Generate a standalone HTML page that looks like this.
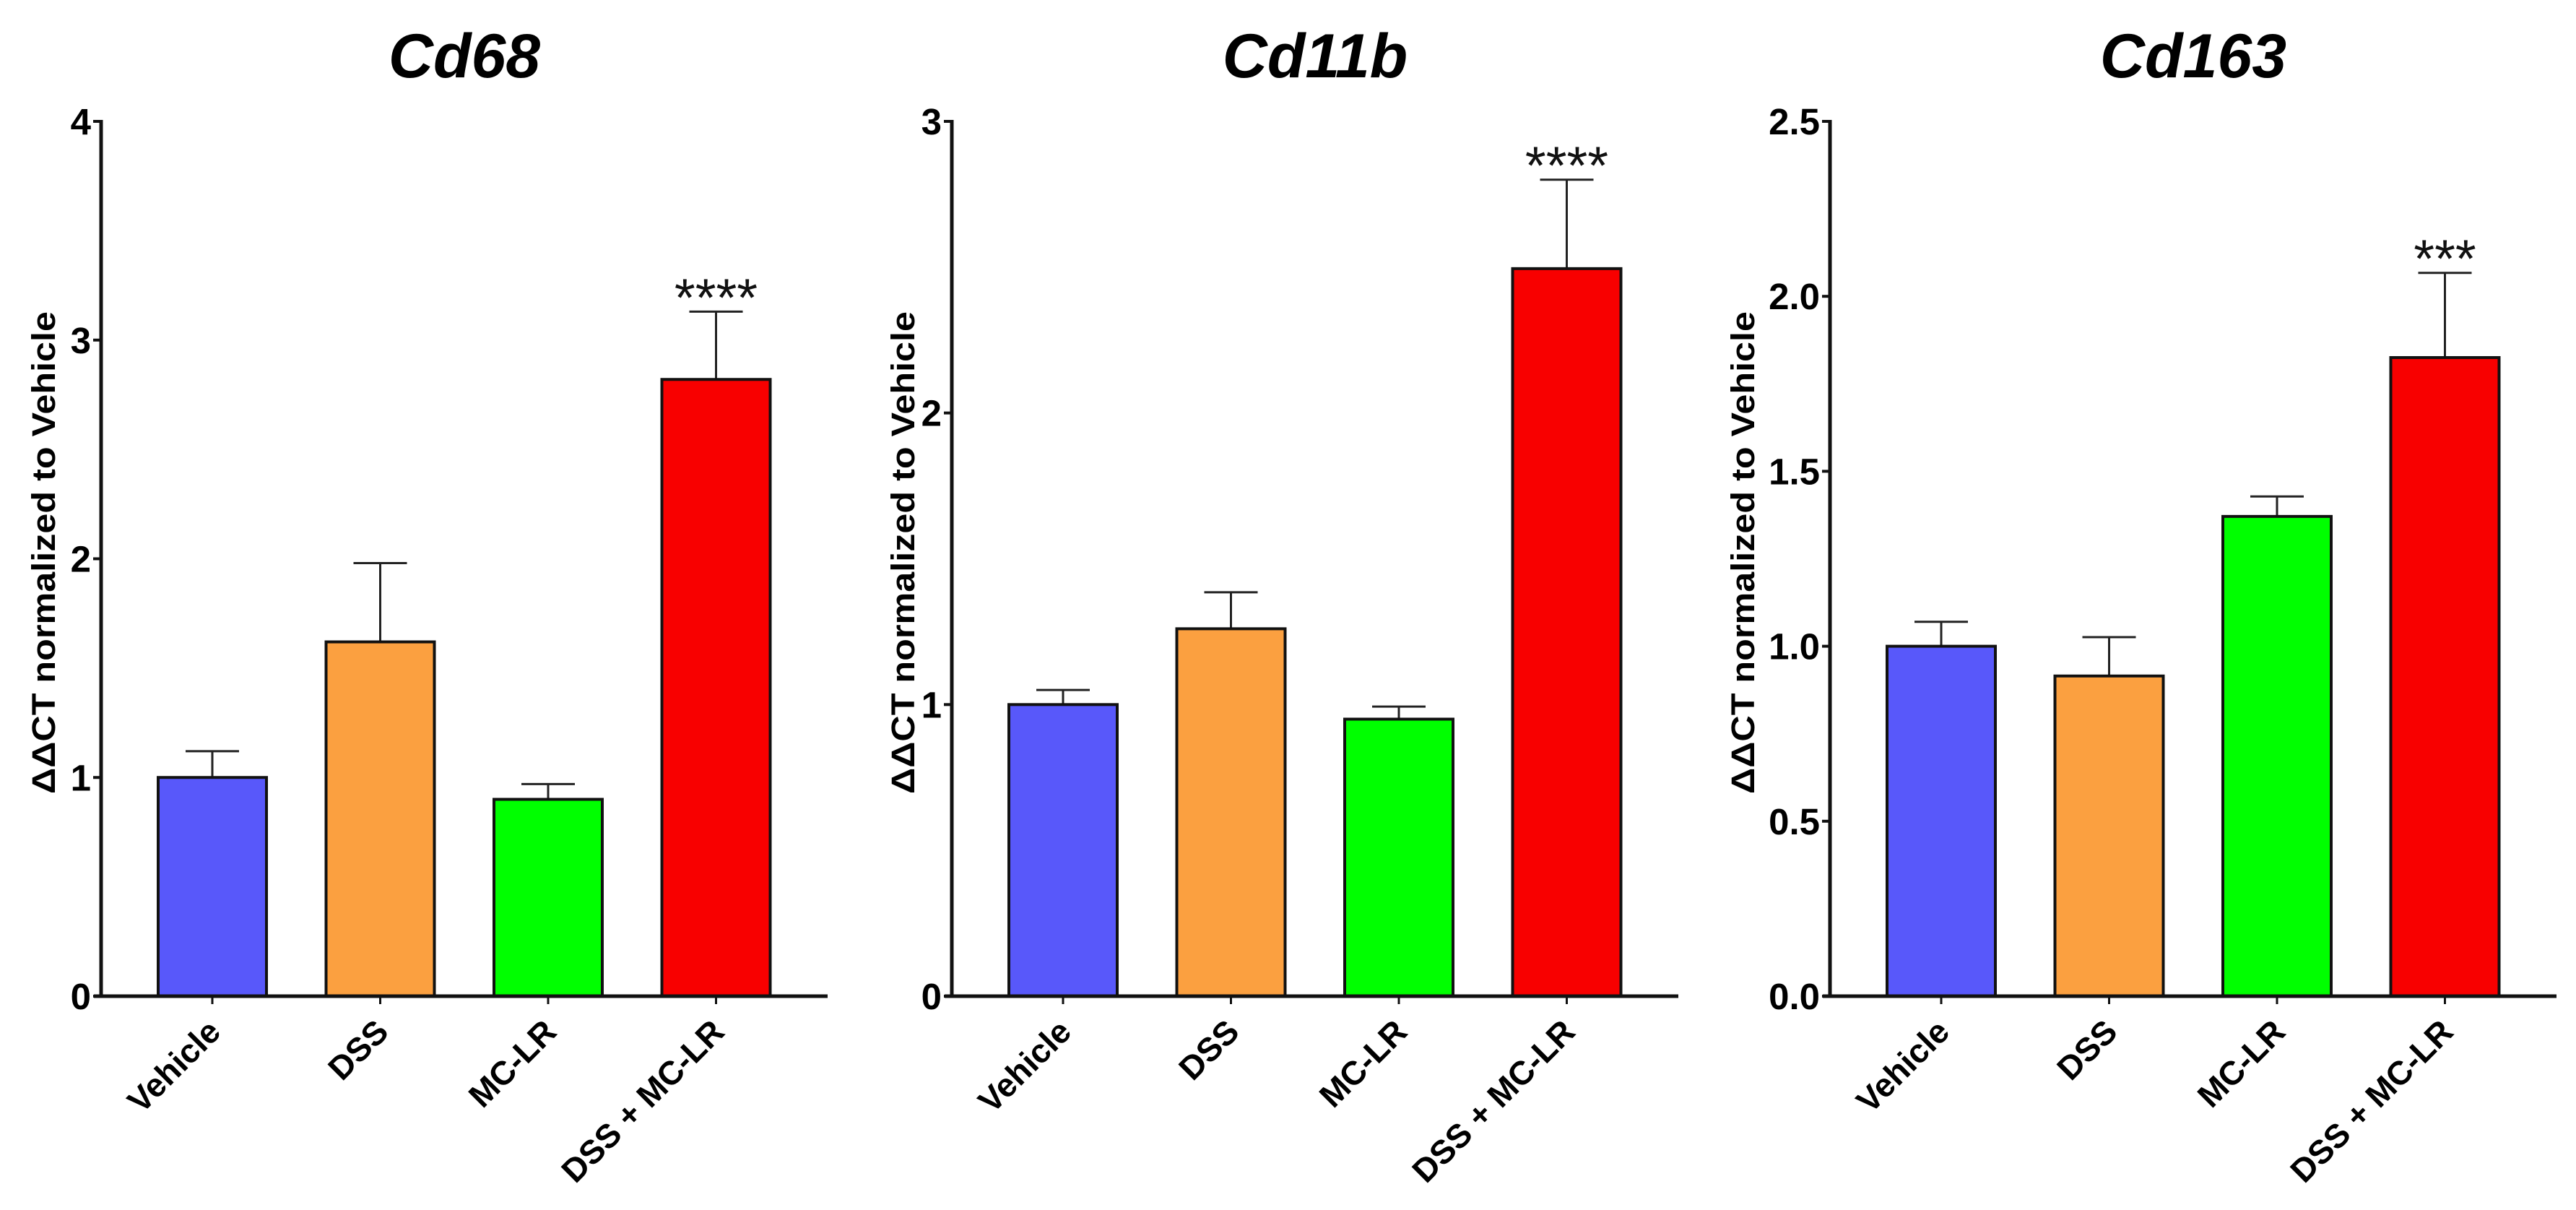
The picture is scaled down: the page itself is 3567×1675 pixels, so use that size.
<!DOCTYPE html>
<html><head><meta charset="utf-8"><style>
html,body{margin:0;padding:0;background:#fff;}
svg{display:block;font-family:"Liberation Sans",Arial,sans-serif;}
</style></head><body>
<svg id="fig" width="3567" height="1675" viewBox="0 0 3567 1675" xmlns="http://www.w3.org/2000/svg"></svg>
<script>
const categories = ["Vehicle","DSS","MC-LR","DSS + MC-LR"];
const colors = ["#5858FA","#FBA040","#00FF00","#F80000"];
const titles = ["Cd68","Cd11b","Cd163"];
const cd68Values = [1.0, 1.62, 0.90, 2.82];
const cd68Errors = [0.12, 0.36, 0.07, 0.31];
const cd11bValues = [1.0, 1.26, 0.95, 2.495];
const cd11bErrors = [0.05, 0.125, 0.043, 0.305];
const cd163Values = [1.0, 0.915, 1.371, 1.825];
const cd163Errors = [0.07, 0.111, 0.057, 0.242];
const cd68Ticks = [0,1,2,3,4];
const cd11bTicks = [0,1,2,3];
const cd163Ticks = [0,0.5,1.0,1.5,2.0,2.5];
const cd68TickLabels = ["0","1","2","3","4"];
const cd11bTickLabels = ["0","1","2","3"];
const cd163TickLabels = ["0.0","0.5","1.0","1.5","2.0","2.5"];
const stars = ["****","****","***"];

const panels = [
 {ax:140, labX:60, vals:cd68Values, errs:cd68Errors, ticks:cd68Ticks, tl:cd68TickLabels, ymax:4},
 {ax:1318, labX:1250, vals:cd11bValues, errs:cd11bErrors, ticks:cd11bTicks, tl:cd11bTickLabels, ymax:3},
 {ax:2534, labX:2413, vals:cd163Values, errs:cd163Errors, ticks:cd163Ticks, tl:cd163TickLabels, ymax:2.5}
];
const NS="http://www.w3.org/2000/svg";
const svg=document.getElementById('fig');
const Y0=1379, YT=168;
function mk(tag, attrs, parent){const e=document.createElementNS(NS,tag);for(const k in attrs)e.setAttribute(k,attrs[k]);(parent||svg).appendChild(e);return e;}

panels.forEach((p,pi)=>{
  const g=mk('g',{});
  
  
  const yS=v=>Y0-(v/p.ymax)*(Y0-YT);
  const xC=i=>p.ax+154+i*232.5;
  const xEnd=p.ax+1006;
  const t=mk('text',{x:(p.ax+xEnd)/2,y:107,'text-anchor':'middle','font-size':86,'font-weight':'bold','font-style':'italic',fill:'#000'},g);
  t.textContent=titles[pi];
  
  
  const yl=mk('text',{x:0,y:0,transform:`translate(${p.labX+16},765) rotate(-90)`,'text-anchor':'middle','font-size':45,'font-weight':'bold',textLength:668,lengthAdjust:'spacingAndGlyphs',fill:'#000'},g);
  yl.textContent='ΔΔCT normalized to Vehicle';
  
  
  p.vals.forEach((v,i)=>{
    const cx=xC(i), top=yS(v), et=yS(v+p.errs[i]);
    const el=mk('line',{x1:cx,y1:top,x2:cx,y2:et,stroke:'#222','stroke-width':3},g);
    
    
    const cap=mk('line',{x1:cx-37,y1:et,x2:cx+37,y2:et,stroke:'#222','stroke-width':3},g);
    
    
    const r=mk('rect',{x:cx-75,y:top,width:150,height:Y0-top,fill:colors[i],stroke:'#111','stroke-width':4},g);
    
    
    const xt=mk('line',{x1:cx,y1:Y0,x2:cx,y2:Y0+11,stroke:'#111','stroke-width':3},g);
    
    
    const xl=mk('text',{x:0,y:0,transform:`translate(${cx+14},${Y0+52}) rotate(-45)`,'text-anchor':'end','font-size':46,'font-weight':'bold',fill:'#000'},g);
    xl.textContent=categories[i];
    
    
  });
  const last=p.vals.length-1;
  const st=mk('text',{x:xC(last),y:yS(p.vals[last]+p.errs[last])+6,'text-anchor':'middle','font-size':74,fill:'#111'},g);
  st.textContent=stars[pi];
  
  
  const ya=mk('line',{x1:p.ax,y1:YT-2,x2:p.ax,y2:Y0+2,stroke:'#111','stroke-width':5},g);
  
  
  const xa=mk('line',{x1:p.ax-10,y1:Y0,x2:xEnd,y2:Y0,stroke:'#111','stroke-width':5},g);
  
  
  p.ticks.forEach((tv,ti)=>{
    const y=yS(tv);
    const tk=mk('line',{x1:p.ax-11,y1:y,x2:p.ax,y2:y,stroke:'#111','stroke-width':4},g);
    
    
    const tl=mk('text',{x:p.ax-14,y:y+18,'text-anchor':'end','font-size':51,'font-weight':'bold',fill:'#000'},g);
    tl.textContent=p.tl[ti];
    
    
  });
});
</script>
</body></html>
